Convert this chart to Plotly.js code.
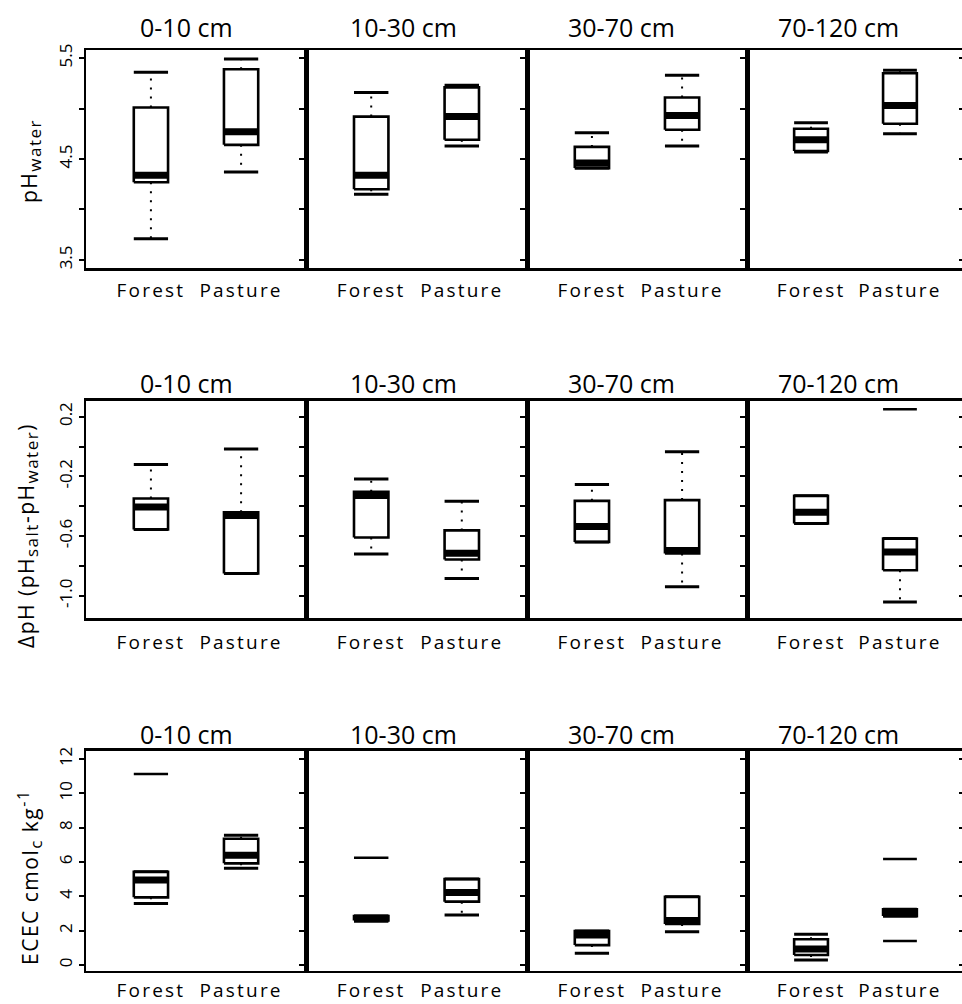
<!DOCTYPE html>
<html>
<head>
<meta charset="utf-8">
<script src="https://cdn.plot.ly/plotly-3.0.1.min.js"></script>
<style>
  html, body { margin: 0; padding: 0; background: #fff; overflow: hidden; }
  g[class^="x"][class$="tick"] text { letter-spacing: 2.2px; }
</style>
</head>
<body>
<div id="chart"></div>
<script>
// ---- categories ----
const depths = ['0-10 cm', '10-30 cm', '30-70 cm', '70-120 cm'];
const landUses = ['Forest', 'Pasture'];

// ---- values: order = [0-10 Forest, 0-10 Pasture, 10-30 Forest, 10-30 Pasture, 30-70 F, 30-70 P, 70-120 F, 70-120 P]
const phWaterLow    = [3.71, 4.37, 4.15, 4.63, 4.41, 4.63, 4.57, 4.75];
const phWaterQ1     = [4.27, 4.64, 4.20, 4.69, 4.41, 4.79, 4.58, 4.85];
const phWaterMedian = [4.34, 4.77, 4.34, 4.92, 4.46, 4.93, 4.69, 5.03];
const phWaterQ3     = [5.01, 5.39, 4.92, 5.21, 4.62, 5.11, 4.80, 5.35];
const phWaterHigh   = [5.36, 5.49, 5.16, 5.23, 4.76, 5.33, 4.86, 5.38];
const phWaterOutliers = [[], [], [], [], [], [], [], []];

const deltaPhLow    = [-0.556, -0.85, -0.72, -0.885, -0.64, -0.94, -0.516, -1.042];
const deltaPhQ1     = [-0.556, -0.85, -0.61, -0.757, -0.64, -0.717, -0.516, -0.829];
const deltaPhMedian = [-0.406, -0.463, -0.329, -0.715, -0.536, -0.697, -0.44, -0.706];
const deltaPhQ3     = [-0.348, -0.44, -0.303, -0.562, -0.364, -0.359, -0.33, -0.616];
const deltaPhHigh   = [-0.12, -0.017, -0.218, -0.366, -0.254, -0.035, -0.33, -0.616];
const deltaPhOutliers = [[], [], [], [], [], [], [], [0.25]];

const ececLow    = [3.59, 5.63, 2.55, 2.91, 0.68, 1.94, 0.29, 2.85];
const ececQ1     = [3.94, 5.92, 2.60, 3.69, 1.16, 2.39, 0.58, 2.85];
const ececMedian = [4.95, 6.39, 2.72, 4.22, 1.75, 2.60, 0.93, 3.05];
const ececQ3     = [5.43, 7.35, 2.85, 5.01, 1.98, 3.98, 1.50, 3.25];
const ececHigh   = [5.43, 7.55, 2.85, 5.01, 1.98, 3.98, 1.79, 3.25];
const ececOutliers = [[11.12], [], [6.25], [], [], [], [], [6.17, 1.40]];

// ---- tick labels ----
const phWaterTicks = [3.5, 4.0, 4.5, 5.0, 5.5];
const phWaterTickText = ['3.5', '', '4.5', '', '5.5'];
const deltaPhTicks = [-1.0, -0.8, -0.6, -0.4, -0.2, 0.0, 0.2];
const deltaPhTickText = ['-1.0', '', '-0.6', '', '-0.2', '', '0.2'];
const ececTicks = [0, 2, 4, 6, 8, 10, 12];
const ececTickText = ['0', '2', '4', '6', '8', '10', '12'];

const SUB = s => '<sub><span style="font-size:17px">' + s + '</span></sub>';
const SUP = s => '<sup><span style="font-size:16px">' + s + '</span></sup>';
const yTitles = [
  'pH' + SUB('water'),
  '\u0394pH (pH' + SUB('salt') + '-pH' + SUB('water') + ')',
  'ECEC cmol' + SUB('c') + ' kg' + SUP('-1')
];

// ---- layout geometry (pixels) ----
const W = 966, H = 1004;
const colEdges = [86, 306, 527, 747, 964];
const rowTop = [50, 400.7, 750.7];
const rowBot = [268, 618.3, 970.7];
const rowLabelStandoff = [4, 5, 1];
const titleCenters = [186, 403, 621, 838];
const titleY = [27.5, 383, 734];
const yTitlePos = [[31, 161], [27, 536], [29, 877]];

const rows = [
  {low: phWaterLow, q1: phWaterQ1, med: phWaterMedian, q3: phWaterQ3, high: phWaterHigh, out: phWaterOutliers,
   range: [3.42, 5.58], ticks: phWaterTicks, tickText: phWaterTickText},
  {low: deltaPhLow, q1: deltaPhQ1, med: deltaPhMedian, q3: deltaPhQ3, high: deltaPhHigh, out: deltaPhOutliers,
   range: [-1.151, 0.307], ticks: deltaPhTicks, tickText: deltaPhTickText},
  {low: ececLow, q1: ececQ1, med: ececMedian, q3: ececQ3, high: ececHigh, out: ececOutliers,
   range: [-0.33, 12.48], ticks: ececTicks, tickText: ececTickText}
];

const FONT = 'Open Sans, Noto Sans, DejaVu Sans, sans-serif';
const halfW = 0.19;
const traces = [];
const layout = {
  width: W, height: H,
  margin: {l: 0, r: 0, t: 0, b: 0},
  paper_bgcolor: '#fff', plot_bgcolor: '#fff',
  showlegend: false,
  font: {family: FONT, color: '#000'},
  annotations: []
};

rows.forEach((R, r) => {
  depths.forEach((depth, c) => {
    const k = r * 4 + c + 1;
    const xa = 'x' + (k === 1 ? '' : k), ya = 'y' + (k === 1 ? '' : k);
    const bx = [], by = [], mx = [], my = [], wx = [], wy = [], cx = [], cy = [], ox = [], oy = [];
    landUses.forEach((lu, g) => {
      const i = c * 2 + g;
      const p = g + 1;
      bx.push(p - halfW, p + halfW, p + halfW, p - halfW, p - halfW, null);
      by.push(R.q1[i], R.q1[i], R.q3[i], R.q3[i], R.q1[i], null);
      mx.push(p - halfW, p + halfW, null);
      my.push(R.med[i], R.med[i], null);
      wx.push(p, p, null, p, p, null);
      wy.push(R.q3[i], R.high[i], null, R.q1[i], R.low[i], null);
      cx.push(p - halfW, p + halfW, null, p - halfW, p + halfW, null);
      cy.push(R.high[i], R.high[i], null, R.low[i], R.low[i], null);
      R.out[i].forEach(o => { ox.push(p - halfW, p + halfW, null); oy.push(o, o, null); });
    });
    const base = {type: 'scatter', mode: 'lines', xaxis: xa, yaxis: ya, hoverinfo: 'skip', showlegend: false};
    traces.push(Object.assign({}, base, {x: wx, y: wy, line: {color: '#000', width: 2, dash: '2px,7px'}}));
    traces.push(Object.assign({}, base, {x: cx, y: cy, line: {color: '#000', width: 3}}));
    traces.push(Object.assign({}, base, {x: bx, y: by, line: {color: '#000', width: 2.6}}));
    traces.push(Object.assign({}, base, {x: mx, y: my, line: {color: '#000', width: 7}}));
    if (ox.length) traces.push(Object.assign({}, base, {x: ox, y: oy, line: {color: '#000', width: 2.5}}));

    const xKey = 'xaxis' + (k === 1 ? '' : k), yKey = 'yaxis' + (k === 1 ? '' : k);
    layout[xKey] = {
      domain: [colEdges[c] / W, colEdges[c + 1] / W],
      anchor: ya, range: [0.28, 2.72], fixedrange: true,
      tickvals: [1, 2], ticktext: landUses, ticks: '',
      tickfont: {family: FONT, size: 19, color: '#000'},
      ticklabelstandoff: rowLabelStandoff[r],
      showline: true, linecolor: '#000', linewidth: 2.5, mirror: true,
      showgrid: false, zeroline: false
    };
    layout[yKey] = {
      domain: [1 - rowBot[r] / H, 1 - rowTop[r] / H],
      anchor: xa, range: R.range, fixedrange: true,
      tickvals: R.ticks, ticktext: R.tickText,
      showticklabels: c === 0,
      tickangle: -90,
      tickfont: {family: FONT, size: 17, color: '#000'},
      ticks: 'outside', ticklen: 5, tickwidth: 2, tickcolor: '#000',
      showline: true, linecolor: '#000', linewidth: 2.5, mirror: c < 3,
      showgrid: false, zeroline: false
    };
    layout.annotations.push({
      xref: 'paper', yref: 'paper', x: titleCenters[c] / W, y: 1 - titleY[r] / H,
      xanchor: 'center', yanchor: 'middle', showarrow: false,
      text: depth, font: {family: FONT, size: 25, color: '#000'}
    });
  });
  // right-edge ticks of the cropped next panel
  const kr = 13 + r;
  const anchorK = r * 4 + 4;
  layout['yaxis' + kr] = {
    overlaying: 'y' + anchorK, anchor: 'x' + anchorK, side: 'right',
    range: R.range, fixedrange: true, tickvals: R.ticks, showticklabels: false,
    ticks: 'inside', ticklen: 5, tickwidth: 2, tickcolor: '#000',
    showline: false, showgrid: false, zeroline: false
  };
  traces.push({type: 'scatter', mode: 'lines', x: [], y: [], xaxis: 'x' + anchorK, yaxis: 'y' + kr, hoverinfo: 'skip', showlegend: false});

  layout.annotations.push({
    xref: 'paper', yref: 'paper', x: yTitlePos[r][0] / W, y: 1 - yTitlePos[r][1] / H,
    xanchor: 'center', yanchor: 'middle', showarrow: false, textangle: -90,
    text: '<span style="letter-spacing:1.5px">' + yTitles[r] + '</span>',
    font: {family: FONT, size: 21, color: '#000'}
  });
});

Plotly.newPlot('chart', traces, layout, {staticPlot: true, displayModeBar: false});
</script>
</body>
</html>
